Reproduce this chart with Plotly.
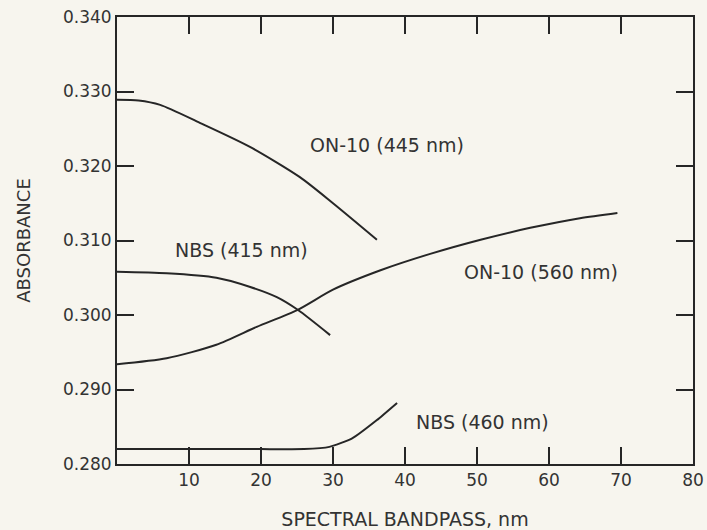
import plotly.graph_objects as go

# ---- data ----
on10_445_x = [0, 3, 6, 11.5, 18.4, 25.4, 30, 36.1]
on10_445_y = [0.3289, 0.3288, 0.3282, 0.3258, 0.3226, 0.3185, 0.3150, 0.3101]

nbs415_x = [0, 6.9, 13.8, 18.4, 22.2, 25.1, 29.6]
nbs415_y = [0.3058, 0.3056, 0.3050, 0.3038, 0.3024, 0.3007, 0.2973]

on10_560_x = [0, 6.9, 13.8, 19.4, 25.1, 30, 36.6, 43.5, 50.5, 57.4, 64.3, 69.5]
on10_560_y = [0.2934, 0.2942, 0.2960, 0.2984, 0.3007, 0.3034, 0.3060, 0.3082,
              0.3101, 0.3117, 0.3130, 0.3137]

nbs460_x = [0, 10, 20, 26.0, 29.5, 32.6, 36.1, 38.9]
nbs460_y = [0.2820, 0.2820, 0.2820, 0.2820, 0.2823, 0.2834, 0.2859, 0.2882]

x_tick_vals = [10, 20, 30, 40, 50, 60, 70, 80]
x_tick_text = ["10", "20", "30", "40", "50", "60", "70", "80"]
y_tick_vals = [0.280, 0.290, 0.300, 0.310, 0.320, 0.330, 0.340]
y_tick_text = ["0.280", "0.290", "0.300", "0.310", "0.320", "0.330", "0.340"]

labels = [
    ("ON-10 (445 nm)", 37.5, 0.3228),
    ("NBS (415 nm)", 17.3, 0.3087),
    ("ON-10 (560 nm)", 58.9, 0.3058),
    ("NBS (460 nm)", 50.8, 0.2856),
]

INK = "#262626"
TXT = "#333333"
BG = "#f7f5ee"
FONT = "DejaVu Sans"

fig = go.Figure()
series = [(on10_445_x, on10_445_y, 0.7), (nbs415_x, nbs415_y, 0.7),
          (on10_560_x, on10_560_y, 0.7), (nbs460_x, nbs460_y, 0.4)]
for xs, ys, sm in series:
    fig.add_trace(go.Scatter(x=xs, y=ys, mode="lines",
                             line=dict(color=INK, width=2, shape="spline", smoothing=sm),
                             showlegend=False, hoverinfo="skip"))

for text, lx, ly in labels:
    fig.add_annotation(x=lx, y=ly, text=text, showarrow=False,
                       font=dict(family=FONT, size=19, color=TXT))

fig.update_layout(
    width=707, height=530,
    margin=dict(l=117, r=14, t=17, b=66),
    paper_bgcolor=BG, plot_bgcolor=BG,
    font=dict(family=FONT, size=17, color=TXT),
)
fig.update_xaxes(
    range=[0, 80], tickvals=x_tick_vals, ticktext=x_tick_text,
    ticks="inside", ticklen=17, tickwidth=1.5, tickcolor=INK,
    showline=True, linecolor=INK, linewidth=2, mirror="ticks",
    showgrid=False, zeroline=False, automargin=False, ticklabeloverflow="allow",
    title=dict(text="SPECTRAL BANDPASS, nm", font=dict(size=19), standoff=23),
)
fig.update_yaxes(
    range=[0.280, 0.340], tickvals=y_tick_vals, ticktext=y_tick_text,
    ticks="inside", ticklen=17, tickwidth=1.5, tickcolor=INK,
    showline=True, linecolor=INK, linewidth=2, mirror="ticks",
    showgrid=False, zeroline=False, automargin=False, ticklabeloverflow="allow",
    title=dict(text="ABSORBANCE", font=dict(size=18), standoff=28),
)

# remove the page's default 8px body margin so the 707x530 figure fills the window
fig.write_html(
    "out.html",
    config={"displayModeBar": False},
    post_script=("document.body.style.margin='0';"
                 "document.body.style.overflow='hidden';"
                 "document.body.style.backgroundColor='#f7f5ee';"),
)
